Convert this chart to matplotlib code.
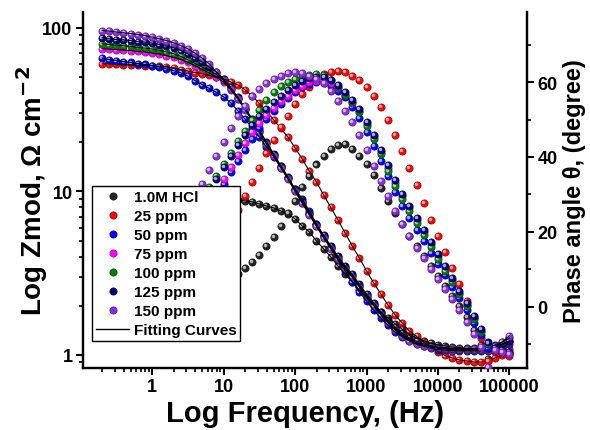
import numpy as np
import matplotlib.pyplot as plt
import matplotlib.colors as mcolors
import matplotlib.transforms as mtransforms
from matplotlib.lines import Line2D
from matplotlib.ticker import LogLocator, NullFormatter, FuncFormatter, MultipleLocator

plt.rcParams['font.family'] = ['Liberation Sans', 'DejaVu Sans']
plt.rcParams['font.weight'] = 'bold'
plt.rcParams['mathtext.default'] = 'bf'

# sweep frequencies, Hz (10 points per decade)
freq = [0.2, 0.251, 0.316, 0.398, 0.501, 0.631, 0.794, 1.0, 1.259, 1.585,
        1.995, 2.512, 3.162, 3.981, 5.012, 6.31, 7.943, 10.0,
        12.59, 15.85, 19.95, 25.12, 31.62, 39.81, 50.12, 63.1, 79.43, 100.0,
        125.9, 158.5, 199.5, 251.2, 316.2, 398.1, 501.2, 631.0, 794.3, 1000.0,
        1259, 1585, 1995, 2512, 3162, 3981, 5012, 6310, 7943, 10000,
        12590, 15850, 19950, 25120, 31620, 39810, 50120, 63100, 79430, 100000]

labels = ['1.0M HCl', '25 ppm', '50 ppm', '75 ppm', '100 ppm', '125 ppm', '150 ppm']
colors = ['#222222', '#ff0000', '#0000ff', '#ff00ff', '#008000', '#000080', '#8a2be2']

# |Z| in ohm cm2
zmod_blank = [9.6, 9.55, 9.5, 9.45, 9.4, 9.36, 9.32, 9.28, 9.24, 9.2, 9.16, 9.12, 9.08, 9.04, 9.0, 8.97, 8.94, 8.91,
              8.89, 8.87, 8.75, 8.63, 8.38, 8.15, 7.93, 7.60, 7.29, 6.79,
              6.15, 5.65, 4.98, 4.45, 3.98, 3.50, 3.13, 2.80, 2.50, 2.23,
              2.02, 1.83, 1.68, 1.55, 1.44, 1.34, 1.27, 1.22, 1.18, 1.15,
              1.135, 1.12, 1.11, 1.10, 1.10, 1.10, 1.12, 1.15, 1.20, 1.27]
zmod_25 = [60.2, 60.1, 59.8, 59.6, 59.4, 59.1, 58.8, 58.6, 58.2, 57.7, 56.9, 55.6, 54.4, 53.3, 52.3, 51.2, 50.1, 48.8,
           46.7, 44.8, 41.8, 38.4, 34.5, 30.9, 27.4, 24.3, 21.5, 18.5,
           15.8, 13.3, 11.4, 9.52, 7.98, 6.70, 5.58, 4.64, 3.92, 3.27,
           2.76, 2.36, 2.02, 1.76, 1.57, 1.40, 1.30, 1.20, 1.12, 1.05,
           0.993, 0.959, 0.932, 0.919, 0.906, 0.906, 0.919, 0.959, 1.0, 1.09]
zmod_50 = [65.3, 64.0, 63.1, 62.2, 61.4, 60.5, 59.7, 58.8, 57.5, 56.1, 54.8, 53.1, 50.7, 47.6, 45.0, 42.6, 40.3, 37.9,
           34.8, 31.1, 27.7, 24.4, 21.5, 18.7, 16.3, 14.0, 12.1, 10.4,
           9.0, 7.6, 6.33, 5.35, 4.51, 3.81, 3.27, 2.80, 2.43, 2.14,
           1.88, 1.68, 1.52, 1.38, 1.29, 1.22, 1.16, 1.13, 1.10, 1.08,
           1.07, 1.065, 1.06, 1.06, 1.06, 1.06, 1.065, 1.08, 1.12, 1.17]
zmod_75 = [74.5, 74.0, 73.5, 73.0, 72.4, 71.7, 71.0, 70.0, 68.9, 67.6, 66.0, 64.0, 61.6, 58.8, 55.7, 53.0, 50.0, 46.5,
           41.8, 36.8, 31.8, 27.2, 23.2, 19.6, 16.6, 14.1, 12.0, 10.1,
           8.55, 7.25, 6.16, 5.26, 4.53, 3.91, 3.42, 3.04, 2.64, 2.30,
           2.03, 1.79, 1.60, 1.44, 1.32, 1.24, 1.18, 1.14, 1.12, 1.10,
           1.09, 1.08, 1.07, 1.07, 1.07, 1.07, 1.08, 1.11, 1.15, 1.20]
zmod_100 = [79.8, 79.0, 78.3, 77.7, 77.0, 76.0, 75.2, 74.2, 72.8, 71.3, 69.4, 67.0, 63.7, 60.6, 57.5, 54.6, 52.0, 47.8,
            42.6, 37.2, 32.1, 27.4, 23.4, 19.8, 16.8, 14.2, 12.1, 10.2,
            8.63, 7.31, 6.22, 5.31, 4.57, 3.95, 3.45, 3.07, 2.67, 2.32,
            2.05, 1.81, 1.61, 1.45, 1.33, 1.25, 1.19, 1.15, 1.13, 1.11,
            1.10, 1.09, 1.08, 1.08, 1.08, 1.08, 1.09, 1.12, 1.16, 1.21]
zmod_125 = [86.9, 85.6, 84.8, 84.4, 83.6, 82.4, 81.8, 80.6, 79.0, 77.3, 75.5, 72.7, 69.3, 65.6, 61.7, 57.5, 53.6, 48.8,
            43.2, 37.7, 32.5, 27.8, 23.7, 20.1, 17.0, 14.4, 12.3, 10.3,
            8.75, 7.42, 6.32, 5.40, 4.66, 4.02, 3.51, 3.12, 2.71, 2.36,
            2.09, 1.84, 1.64, 1.48, 1.36, 1.27, 1.21, 1.17, 1.14, 1.12,
            1.11, 1.10, 1.09, 1.09, 1.09, 1.09, 1.10, 1.13, 1.17, 1.22]
zmod_150 = [96.3, 95.5, 94.2, 93.2, 92.3, 91.0, 89.7, 87.7, 85.7, 83.6, 81.0, 77.9, 74.5, 70.0, 65.3, 60.2, 53.5, 47.9,
            42.2, 36.7, 31.6, 27.0, 23.0, 19.5, 16.5, 14.0, 11.9, 10.0,
            8.47, 7.18, 6.11, 5.20, 4.47, 3.85, 3.36, 2.99, 2.60, 2.26,
            2.0, 1.76, 1.57, 1.42, 1.30, 1.22, 1.17, 1.14, 1.12, 1.11,
            1.10, 1.097, 1.092, 1.09, 1.09, 1.092, 1.11, 1.14, 1.20, 1.31]

# phase angle in degrees
phase_blank = [3.0, 3.2, 3.4, 3.6, 3.8, 4.0, 4.3, 4.6, 4.9, 5.2, 5.5, 5.8, 6.1, 6.4, 6.8, 7.2, 7.6, 8.0,
               8.4, 8.8, 10.4, 12.0, 13.9, 16.3, 18.7, 21.6, 25.0, 28.3,
               32.0, 35.0, 38.0, 40.3, 42.2, 43.2, 43.5, 42.1, 40.3, 38.1,
               35.2, 31.7, 28.3, 25.0, 22.0, 19.0, 16.2, 13.6, 10.9, 8.3,
               5.7, 3.0, 0.2, -2.8, -6.2, -10.1, -14.0, -11.5, -12.0, -12.5]
phase_25 = [2.5, 2.8, 3.2, 3.6, 4.1, 4.7, 5.4, 6.2, 7.1, 8.1, 9.2, 10.4, 11.7, 13.1, 14.7, 16.5, 18.5, 20.7,
            23.1, 25.8, 29.6, 33.3, 37.1, 41.1, 44.5, 48.0, 51.0, 54.1,
            56.8, 58.8, 60.8, 62.1, 62.7, 62.9, 62.7, 61.6, 60.5, 58.7,
            56.3, 53.3, 49.9, 45.9, 41.6, 37.1, 32.5, 27.7, 23.2, 18.9,
            14.7, 10.4, 6.1, 1.6, -2.9, -8.3, -14.4, -12.0, -12.5, -13.0]
phase_50 = [3.5, 4.0, 4.6, 5.3, 6.1, 7.0, 8.1, 9.4, 10.9, 12.6, 14.5, 16.6, 18.9, 21.4, 24.0, 26.8, 29.7, 32.8,
            36.0, 39.0, 41.9, 44.8, 47.8, 50.1, 52.3, 54.1, 55.7, 57.4,
            58.7, 59.5, 60.0, 59.7, 58.9, 57.6, 56.0, 53.3, 50.4, 46.7,
            42.9, 38.9, 34.9, 30.7, 27.0, 23.8, 20.6, 17.5, 14.4, 11.4,
            8.4, 5.4, 2.3, -0.9, -4.2, -7.6, -11.0, -11.4, -11.9, -12.4]
phase_75 = [3.6, 4.1, 4.7, 5.4, 6.2, 7.2, 8.4, 9.8, 11.4, 13.3, 15.3, 17.6, 20.0, 22.6, 25.3, 28.1, 31.0, 34.1,
            37.3, 40.5, 43.7, 46.7, 49.1, 51.3, 53.2, 54.9, 56.4, 57.9,
            58.9, 60.0, 60.3, 60.3, 59.8, 58.4, 56.5, 54.5, 52.3, 48.8,
            45.3, 41.3, 37.1, 33.1, 29.5, 26.3, 23.1, 19.9, 16.7, 13.5,
            10.3, 7.1, 3.8, 0.6, -2.8, -6.3, -9.8, -11.1, -11.6, -12.1]
phase_100 = [4.2, 4.8, 5.5, 6.3, 7.3, 8.5, 9.9, 11.5, 13.3, 15.4, 17.7, 20.2, 23.0, 25.9, 28.9, 32.0, 35.0, 38.2,
             41.2, 44.2, 46.9, 49.8, 52.6, 55.3, 57.3, 58.9, 60.0, 60.8,
             61.6, 61.9, 62.1, 61.9, 60.6, 58.8, 56.6, 54.7, 52.0, 48.3,
             44.8, 40.8, 36.3, 32.3, 28.8, 25.6, 22.4, 19.2, 16.0, 12.9,
             9.7, 6.6, 3.4, 0.2, -3.2, -6.6, -10.0, -11.2, -11.7, -12.2]
phase_125 = [4.0, 4.6, 5.3, 6.1, 7.0, 8.2, 9.5, 11.0, 12.8, 14.8, 17.0, 19.5, 22.2, 25.0, 28.0, 31.0, 34.1, 37.3,
             40.3, 43.2, 45.9, 48.5, 50.9, 52.8, 54.6, 56.3, 58.0, 59.3,
             60.3, 61.0, 61.3, 61.3, 60.5, 59.2, 57.3, 55.3, 52.8, 49.3,
             45.8, 41.8, 37.9, 33.9, 30.2, 27.0, 23.8, 20.6, 17.4, 14.2,
             10.9, 7.7, 4.3, 1.1, -2.4, -5.9, -9.5, -11.0, -11.5, -12.0]
phase_150 = [4.5, 5.2, 6.0, 7.0, 8.0, 9.5, 11.0, 13.0, 15.0, 17.5, 20.0, 23.0, 26.0, 29.3, 32.8, 36.5, 40.3, 44.0,
             47.7, 50.9, 53.6, 56.3, 58.1, 59.7, 60.8, 61.6, 62.4, 62.7,
             62.4, 61.6, 60.8, 59.8, 57.6, 54.9, 52.3, 49.3, 45.9, 41.9,
             37.6, 33.6, 29.6, 25.6, 22.1, 18.9, 15.7, 13.1, 10.1, 7.5,
             4.8, 2.1, -0.8, -4.0, -7.2, -10.7, -16.0, -11.5, -12.0, -12.5]

zmods = [zmod_blank, zmod_25, zmod_50, zmod_75, zmod_100, zmod_125, zmod_150]
phases = [phase_blank, phase_25, phase_50, phase_75, phase_100, phase_125, phase_150]

fig = plt.figure(figsize=(5.9, 4.31), dpi=100)
ax = fig.add_axes([0.1407, 0.1439, 0.7525, 0.826])
ax2 = ax.twinx()

# small white offset dot gives the markers a shaded-ball look
shine = mtransforms.offset_copy(ax.transData, fig=fig, x=-0.7, y=0.7, units='points')
shine2 = mtransforms.offset_copy(ax2.transData, fig=fig, x=-0.7, y=0.7, units='points')

ms = 5.2
for z, ph, c in zip(zmods, phases, colors):
    edge = np.array(mcolors.to_rgb(c)) * 0.6
    ax.plot(freq, z, 'o', ms=ms, mfc=c, mec=edge, mew=0.5, zorder=3)
    ax.plot(freq, z, 'o', ms=1.6, color='white', alpha=0.55, transform=shine, zorder=3)
    ax2.plot(freq, ph, 'o', ms=ms, mfc=c, mec=edge, mew=0.5, zorder=3)
    ax2.plot(freq, ph, 'o', ms=1.6, color='white', alpha=0.55, transform=shine2, zorder=3)

# fitted impedance curves
for z in zmods:
    ax.plot(freq, z, '-', color='black', lw=0.8, zorder=4)

ax.set_xscale('log')
ax.set_yscale('log')
ax.set_xlim(0.108, 176000)
ax.set_ylim(0.833, 125)
ax2.set_ylim(-16.3, 78.7)

fmt = FuncFormatter(lambda v, p: f'{v:g}')
ax.xaxis.set_major_locator(LogLocator(base=10, numticks=12))
ax.xaxis.set_minor_locator(LogLocator(base=10, subs=np.arange(2, 10), numticks=12))
ax.xaxis.set_major_formatter(fmt)
ax.xaxis.set_minor_formatter(NullFormatter())
ax.yaxis.set_major_locator(LogLocator(base=10, numticks=12))
ax.yaxis.set_minor_locator(LogLocator(base=10, subs=np.arange(2, 10), numticks=12))
ax.yaxis.set_major_formatter(fmt)
ax.yaxis.set_minor_formatter(NullFormatter())
ax2.yaxis.set_major_locator(MultipleLocator(20))
ax2.yaxis.set_minor_locator(MultipleLocator(10))

for a in (ax, ax2):
    a.spines['top'].set_visible(False)
    for s in a.spines.values():
        s.set_linewidth(1.6)
    a.tick_params(which='major', direction='out', length=5, width=1.5, labelsize=13, pad=2.5)
    a.tick_params(which='minor', direction='out', length=3, width=1.2)
ax.tick_params(axis='y', which='both', right=False)
ax2.tick_params(axis='x', which='both', top=False, bottom=False)

ax.set_xlabel('Log Frequency, (Hz)', fontsize=21, fontweight='bold')
ax.set_ylabel('Log Zmod, Ω cm$^{-2}$', fontsize=20, fontweight='bold')
ax2.set_ylabel('Phase angle θ, (degree)', fontsize=17, fontweight='bold')
ax.xaxis.set_label_coords(0.5, -0.088)
ax.yaxis.set_label_coords(-0.075, 0.5)
ax2.yaxis.set_label_coords(1.08, 0.5)

handles = [Line2D([], [], ls='none', marker='o', ms=ms, mfc=c,
                  mec=np.array(mcolors.to_rgb(c)) * 0.6, mew=0.5) for c in colors]
handles.append(Line2D([], [], color='black', lw=1.0))
leg = ax2.legend(handles, labels + ['Fitting Curves'], loc='upper left',
                 bbox_to_anchor=(0.02, 0.511), borderaxespad=0, frameon=True,
                 fancybox=False, edgecolor='black', facecolor='white', framealpha=1,
                 fontsize=11, labelspacing=0.33, handlelength=2.2,
                 handletextpad=0.3, borderpad=0.25)
leg.get_frame().set_linewidth(1.0)
leg.set_zorder(10)

fig.savefig('out.png', dpi=100)
